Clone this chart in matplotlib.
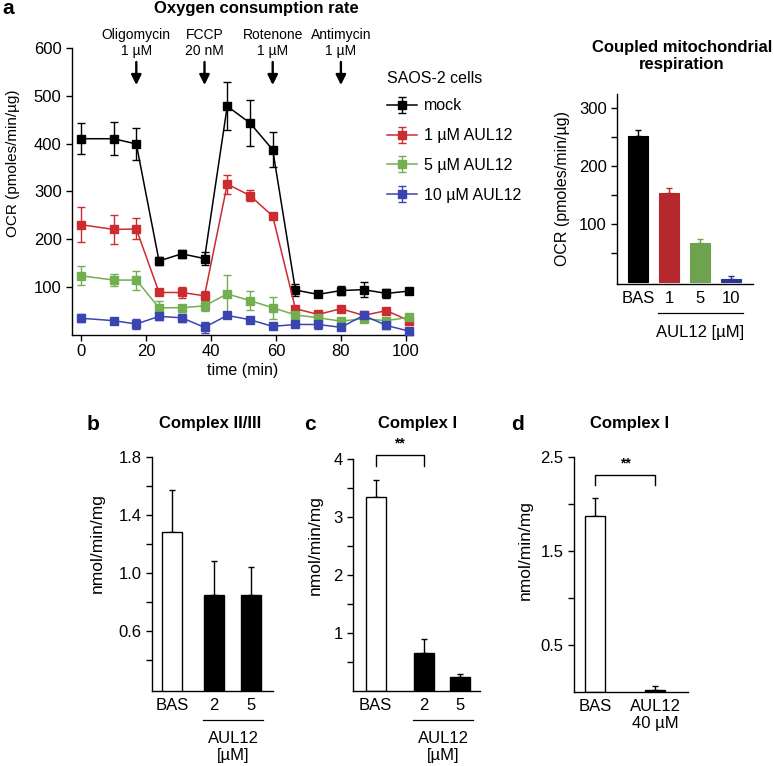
import numpy as np
import matplotlib
matplotlib.use('Agg')
import matplotlib.pyplot as plt
from matplotlib import transforms

plt.rcParams['font.family'] = ['Liberation Sans', 'DejaVu Sans']

W, H = 774, 766

# ---------------- data ----------------
time_min = [0, 10, 17, 24, 31, 38, 45, 52, 59, 66, 73, 80, 87, 94, 101]
series_names = ['mock', '1 µM AUL12', '5 µM AUL12', '10 µM AUL12']
ocr_mock = [410, 410, 399, 154, 169, 159, 478, 443, 387, 93, 84, 92, 94, 86, 91]
ocr_mock_err = [32, 35, 33, 8, 8, 14, 50, 49, 37, 12, 5, 10, 15, 10, 5]
ocr_1uM = [230, 220, 221, 88, 88, 81, 315, 291, 248, 54, 42, 54, 40, 50, 29]
ocr_1uM_err = [37, 31, 22, 5, 12, 10, 20, 12, 5, 5, 5, 5, 5, 5, 5]
ocr_5uM = [123, 114, 114, 56, 56, 60, 85, 71, 56, 41, 35, 28, 33, 29, 36]
ocr_5uM_err = [20, 13, 20, 15, 5, 10, 40, 20, 23, 5, 5, 5, 5, 5, 5]
ocr_10uM = [34, 29, 22, 38, 35, 15, 40, 31, 17, 21, 21, 15, 40, 19, 7]
ocr_10uM_err = [8, 5, 10, 8, 8, 12, 6, 5, 5, 6, 10, 5, 6, 8, 5]

drug_labels = ['Oligomycin\n1 µM', 'FCCP\n20 nM', 'Rotenone\n1 µM', 'Antimycin\n1 µM']
drug_times = [17, 38, 59, 80]

coupled_labels = ['BAS', '1', '5', '10']
coupled_vals = [252, 154, 68, 5]
coupled_err = [10, 9, 7, 6]

c23_labels = ['BAS', '2', '5']
c23_vals = [1.285, 0.848, 0.848]
c23_err = [0.29, 0.235, 0.195]

c1_labels = ['BAS', '2', '5']
c1_vals = [3.35, 0.66, 0.24]
c1_err = [0.29, 0.23, 0.05]

c1d_labels = ['BAS', 'AUL12\n40 µM']
c1d_vals = [1.87, 0.02]
c1d_err = [0.19, 0.04]

# ---------------- style ----------------
line_colors = ['#000000', '#cc2b30', '#72b04f', '#3b45b0']
bar_colors = ['#000000', '#b5282e', '#6ea24f', '#2b3590']
FS = 12
LW = 1.0

fig = plt.figure(figsize=(W / 100, H / 100), dpi=100)


def add_ax(left, right, top, bottom):
    ax = fig.add_axes([left / W, 1 - bottom / H, (right - left) / W, (bottom - top) / H])
    for s in ['top', 'right']:
        ax.spines[s].set_visible(False)
    for s in ['left', 'bottom']:
        ax.spines[s].set_linewidth(LW)
    ax.tick_params(which='both', direction='out', width=LW, length=4, labelsize=FS)
    return ax


def fy(py):
    return 1 - py / H


def fx(px):
    return px / W


# ---------------- panel a: OCR time course ----------------
ax = add_ax(72, 413, 48, 334.5)
all_vals = [ocr_mock, ocr_1uM, ocr_5uM, ocr_10uM]
all_errs = [ocr_mock_err, ocr_1uM_err, ocr_5uM_err, ocr_10uM_err]
for vals, errs, c, name in zip(all_vals, all_errs, line_colors, series_names):
    ax.errorbar(time_min, vals, yerr=errs, color=c, lw=1.1, marker='s', ms=6,
                mec=c, mfc=c, capsize=3, elinewidth=1.0, capthick=1.0, label=name,
                clip_on=False, zorder=3)
ax.set_xlim(-2.8, 102.2)
ax.set_ylim(0, 600)
ax.set_xticks([0, 20, 40, 60, 80, 100])
ax.set_yticks([100, 200, 300, 400, 500, 600])
ax.tick_params(axis='x', pad=3)
ax.set_xlabel('time (min)', fontsize=11.5, labelpad=3)
fig.text(fx(13), fy(163), 'OCR (pmoles/min/µg)', rotation=90, ha='center', va='center', fontsize=11)

blend = transforms.blended_transform_factory(ax.transData, fig.transFigure)
for t, lab in zip(drug_times, drug_labels):
    ax.text(t, fy(43), lab, transform=blend, ha='center', va='center', fontsize=10, linespacing=1.25)
    ax.annotate('', xy=(t, fy(85)), xycoords=blend, xytext=(t, fy(62)), textcoords=blend,
                arrowprops=dict(arrowstyle='-|>', lw=1.7, color='black', mutation_scale=15,
                                shrinkA=0, shrinkB=0))

leg = ax.legend(loc='upper left', bbox_to_anchor=(fx(387), fy(71)), bbox_transform=fig.transFigure,
                frameon=False, fontsize=11.5, title='SAOS-2 cells', title_fontsize=11.5,
                handlelength=1.9, handletextpad=0.4, labelspacing=0.92, borderpad=0,
                borderaxespad=0, alignment='left')
leg._legend_box.sep = 9

fig.text(fx(256), fy(9), 'Oxygen consumption rate', ha='center', va='center', fontsize=12, weight='bold')
fig.text(fx(8), fy(8), 'a', ha='center', va='center', fontsize=15, weight='bold')

# ---------------- panel a right: coupled respiration ----------------
ax2 = add_ax(617, 753, 94, 284)
pos2 = np.arange(len(coupled_vals))
ax2.bar(pos2, coupled_vals, width=0.645, color=bar_colors, edgecolor=bar_colors, lw=0.8, zorder=2)
for p, v, e, c in zip(pos2, coupled_vals, coupled_err, bar_colors):
    ax2.errorbar([p], [v], yerr=[[0], [e]], fmt='none', ecolor=c, elinewidth=1.0,
                 capsize=2.5, capthick=1.0, zorder=1)
ax2.set_xlim(-0.677, 3.71)
ax2.set_ylim(-3, 324)
ax2.set_yticks([100, 200, 300])
ax2.set_yticks([50, 150, 250], minor=True)
ax2.set_xticks(pos2)
ax2.set_xticklabels(coupled_labels)
ax2.tick_params(axis='x', length=0, pad=5)
fig.text(fx(563), fy(188), 'OCR (pmoles/min/µg)', rotation=90, ha='center', va='center', fontsize=11.5)
b2 = transforms.blended_transform_factory(ax2.transData, fig.transFigure)
x0, x1 = pos2[1] - 0.355, pos2[3] + 0.39
ax2.plot([x0, x1], [fy(313), fy(313)], color='black', lw=0.9, transform=b2, clip_on=False)
ax2.text((x0 + x1) / 2, fy(333), 'AUL12 [µM]', transform=b2, ha='center', va='center', fontsize=FS)
fig.text(fx(682), fy(56), 'Coupled mitochondrial\nrespiration', ha='center', va='center',
         fontsize=12, weight='bold', linespacing=1.2)


# ---------------- bottom panels helper ----------------
def bottom_bars(ax, pos, vals, errs, colors):
    ax.bar(pos, vals, width=0.5, color=colors, edgecolor='black', lw=1.0, zorder=2)
    ax.errorbar(pos, vals, yerr=[np.zeros(len(errs)), errs], fmt='none', ecolor='black',
                elinewidth=1.0, capsize=2.5, capthick=1.0, zorder=1)
    ax.set_xticks(pos)
    ax.tick_params(axis='x', length=0, pad=5)


# panel b
axb = add_ax(152, 273, 457, 691)
posb = [0, 1.05, 1.98]
bottom_bars(axb, posb, c23_vals, c23_err, ['white', 'black', 'black'])
axb.set_xticklabels(c23_labels)
axb.set_xlim(-0.5, 2.525)
axb.set_ylim(0.19, 1.8)
axb.set_yticks([0.6, 1.0, 1.4, 1.8])
axb.set_yticks([0.4, 0.8, 1.2, 1.6], minor=True)
axb.set_yticklabels(['0.6', '1.0', '1.4', '1.8'])
bb = transforms.blended_transform_factory(axb.transData, fig.transFigure)
x0, x1 = posb[1] - 0.275, posb[2] + 0.3
axb.plot([x0, x1], [fy(720), fy(720)], color='black', lw=0.9, transform=bb, clip_on=False)
axb.text((x0 + x1) / 2, fy(747), 'AUL12\n[µM]', transform=bb, ha='center', va='center',
         fontsize=FS, linespacing=1.2)
fig.text(fx(97), fy(543), 'nmol/min/mg', rotation=90, ha='center', va='center', fontsize=12.5)
fig.text(fx(210), fy(423), 'Complex II/III', ha='center', va='center', fontsize=12, weight='bold')
fig.text(fx(93), fy(424), 'b', ha='center', va='center', fontsize=15, weight='bold')

# panel c
axc = add_ax(353, 480, 459, 691)
posc = [0, 1.21, 2.11]
bottom_bars(axc, posc, c1_vals, c1_err, ['white', 'black', 'black'])
axc.set_xticklabels(c1_labels)
axc.set_xlim(-0.5625, 2.61)
axc.set_ylim(0, 4)
axc.set_yticks([1, 2, 3, 4])
axc.set_yticks([0.5, 1.5, 2.5, 3.5], minor=True)
axc.plot([posc[0], posc[0], posc[1], posc[1]], [3.88, 4.07, 4.07, 3.88], color='black', lw=1.0,
         clip_on=False)
axc.text((posc[0] + posc[1]) / 2, 4.14, '**', ha='center', va='bottom', fontsize=10, weight='bold')
bc = transforms.blended_transform_factory(axc.transData, fig.transFigure)
x0, x1 = posc[1] - 0.27, posc[2] + 0.33
axc.plot([x0, x1], [fy(720), fy(720)], color='black', lw=0.9, transform=bc, clip_on=False)
axc.text((x0 + x1) / 2, fy(747), 'AUL12\n[µM]', transform=bc, ha='center', va='center',
         fontsize=FS, linespacing=1.2)
fig.text(fx(315), fy(545), 'nmol/min/mg', rotation=90, ha='center', va='center', fontsize=12.5)
fig.text(fx(418), fy(423), 'Complex I', ha='center', va='center', fontsize=12, weight='bold')
fig.text(fx(310), fy(424), 'c', ha='center', va='center', fontsize=15, weight='bold')

# panel d
axd = add_ax(574, 688, 457, 692)
posd = [0, 1.5]
bottom_bars(axd, posd, c1d_vals, c1d_err, ['white', 'black'])
axd.set_xticklabels(c1d_labels, linespacing=1.2)
axd.set_xlim(-0.525, 2.325)
axd.set_ylim(0, 2.5)
axd.set_yticks([0.5, 1.5, 2.5])
axd.set_yticks([1.0, 2.0], minor=True)
axd.plot([posd[0], posd[0], posd[1], posd[1]], [2.2, 2.31, 2.31, 2.2], color='black', lw=1.0,
         clip_on=False)
axd.text((posd[0] + posd[1]) / 2, 2.36, '**', ha='center', va='bottom', fontsize=10, weight='bold')
fig.text(fx(525), fy(550), 'nmol/min/mg', rotation=90, ha='center', va='center', fontsize=12.5)
fig.text(fx(630), fy(423), 'Complex I', ha='center', va='center', fontsize=12, weight='bold')
fig.text(fx(518), fy(424), 'd', ha='center', va='center', fontsize=15, weight='bold')

fig.savefig('out.png', dpi=100)
